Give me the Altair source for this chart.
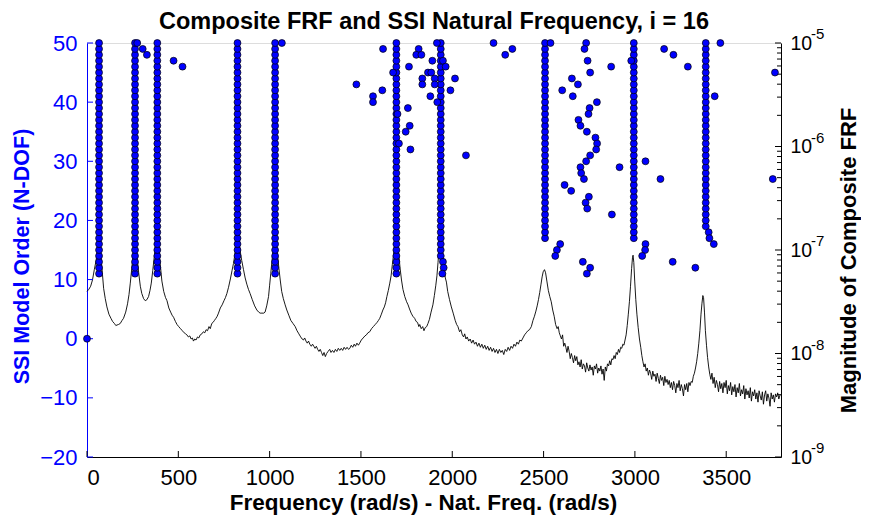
import altair as alt
import pandas as pd

W, H = 694, 414
BLUE = "#0000ff"
FONT = "Liberation Sans"
TITLE = "Composite FRF and SSI Natural Frequency, i = 16"

# ---------------- FRF curve (frequency, log10 magnitude) ----------------
frf_freq = [
    0, 10, 20, 30, 40, 50, 58, 63, 66, 70, 76, 84, 91, 100, 109, 120, 131, 140, 150, 158,
    164, 172, 182, 192, 200, 212, 222, 230, 237, 245, 252, 258, 263, 268, 275, 283, 292, 300, 310, 319,
    328, 337, 345, 352, 360, 368, 376, 385, 392, 400, 410, 420, 430, 438, 448, 458, 466, 474, 484, 493,
    502, 512, 522, 532, 540, 547, 555, 563, 570, 577, 583, 590, 597, 605, 612, 620, 629, 637, 645, 652,
    660, 668, 675, 683, 690, 698, 706, 713, 720, 730, 740, 750, 758, 766, 775, 785, 794, 802, 810, 817,
    824, 830, 838, 847, 857, 866, 875, 884, 893, 905, 918, 930, 940, 948, 958, 968, 975, 984, 994, 1000,
    1006, 1013, 1020, 1026, 1031, 1036, 1044, 1051, 1058, 1066, 1075, 1085, 1094, 1105, 1116, 1128, 1140, 1150, 1160, 1170,
    1178, 1185, 1192, 1199, 1206, 1213, 1220, 1228, 1235, 1242, 1249, 1256, 1263, 1270, 1277, 1284, 1291, 1298, 1305, 1312,
    1320, 1329, 1336, 1344, 1352, 1360, 1368, 1376, 1384, 1392, 1400, 1408, 1416, 1424, 1432, 1439, 1447, 1455, 1463, 1470,
    1478, 1486, 1493, 1502, 1512, 1522, 1530, 1538, 1548, 1558, 1568, 1578, 1588, 1596, 1603, 1612, 1620, 1628, 1635, 1642,
    1650, 1658, 1665, 1672, 1680, 1687, 1693, 1699, 1706, 1714, 1722, 1730, 1740, 1750, 1758, 1766, 1775, 1784, 1794, 1802,
    1810, 1817, 1822, 1830, 1838, 1845, 1852, 1860, 1867, 1875, 1884, 1894, 1902, 1910, 1916, 1922, 1928, 1934, 1940, 1947,
    1955, 1962, 1968, 1975, 1985, 1995, 2005, 2016, 2024, 2031, 2040, 2047, 2055, 2062, 2068, 2075, 2082, 2090, 2098, 2106,
    2114, 2122, 2130, 2138, 2146, 2154, 2162, 2170, 2178, 2186, 2194, 2202, 2210, 2218, 2226, 2234, 2242, 2250, 2258, 2266,
    2274, 2282, 2290, 2298, 2306, 2314, 2322, 2330, 2338, 2346, 2354, 2362, 2370, 2378, 2387, 2396, 2405, 2414, 2423, 2433,
    2442, 2450, 2458, 2465, 2472, 2479, 2486, 2492, 2498, 2505, 2511, 2518, 2526, 2534, 2542, 2550, 2558, 2566, 2574, 2580,
    2586, 2592, 2598, 2604, 2610, 2616, 2622, 2628, 2634, 2640, 2646, 2652, 2658, 2664, 2670, 2676, 2682, 2688, 2694, 2700,
    2706, 2712, 2718, 2724, 2730, 2736, 2742, 2748, 2754, 2760, 2766, 2772, 2778, 2784, 2790, 2796, 2802, 2808, 2814, 2820,
    2826, 2832, 2838, 2844, 2850, 2856, 2862, 2868, 2874, 2880, 2886, 2892, 2898, 2904, 2910, 2916, 2922, 2928, 2934, 2940,
    2946, 2952, 2958, 2964, 2970, 2976, 2982, 2987, 2990, 2994, 2999, 3005, 3011, 3018, 3025, 3032, 3038, 3044, 3050, 3056,
    3062, 3068, 3074, 3080, 3086, 3092, 3098, 3104, 3110, 3116, 3122, 3128, 3134, 3140, 3146, 3152, 3158, 3164, 3170, 3176,
    3182, 3188, 3194, 3200, 3206, 3212, 3218, 3224, 3230, 3236, 3242, 3248, 3254, 3260, 3266, 3272, 3278, 3284, 3290, 3296,
    3302, 3308, 3314, 3320, 3326, 3332, 3338, 3344, 3350, 3356, 3362, 3367, 3372, 3376, 3381, 3386, 3392, 3398, 3404, 3410,
    3416, 3422, 3428, 3434, 3440, 3446, 3452, 3458, 3464, 3470, 3476, 3482, 3488, 3494, 3500, 3506, 3512, 3518, 3524, 3530,
    3536, 3542, 3548, 3554, 3560, 3566, 3572, 3578, 3584, 3590, 3596, 3602, 3608, 3614, 3620, 3626, 3632, 3638, 3644, 3650,
    3656, 3662, 3668, 3674, 3680, 3686, 3692, 3698, 3704, 3710, 3716, 3722, 3728, 3734, 3740, 3746, 3752, 3758, 3764, 3770,
    3776, 3782, 3788, 3795,
]
frf_log = [
    -7.40, -7.38, -7.35, -7.29, -7.19, -7.10, -6.98, -6.90, -6.86, -6.92, -7.05, -7.22, -7.37, -7.47, -7.55, -7.62, -7.66, -7.69, -7.71, -7.73,
    -7.725, -7.72, -7.71, -7.68, -7.66, -7.60, -7.52, -7.43, -7.32, -7.18, -7.05, -6.93, -6.86, -6.92, -7.08, -7.22, -7.35, -7.42, -7.47, -7.49,
    -7.48, -7.45, -7.39, -7.32, -7.20, -7.07, -6.95, -6.86, -6.95, -7.12, -7.30, -7.40, -7.46, -7.49, -7.56, -7.60, -7.63, -7.65, -7.69, -7.72,
    -7.74, -7.76, -7.78, -7.80, -7.81, -7.82, -7.84, -7.83, -7.86, -7.85, -7.88, -7.86, -7.87, -7.84, -7.85, -7.82, -7.81, -7.79, -7.80, -7.77,
    -7.78, -7.74, -7.76, -7.71, -7.70, -7.68, -7.66, -7.64, -7.61, -7.56, -7.53, -7.49, -7.46, -7.42, -7.36, -7.28, -7.20, -7.13, -7.04, -6.95,
    -6.86, -6.90, -7.00, -7.10, -7.19, -7.27, -7.33, -7.38, -7.42, -7.48, -7.54, -7.58, -7.60, -7.61, -7.61, -7.61, -7.60, -7.54, -7.45, -7.34,
    -7.23, -7.10, -6.98, -6.89, -6.86, -6.92, -7.06, -7.18, -7.29, -7.40, -7.47, -7.53, -7.58, -7.63, -7.68, -7.71, -7.74, -7.78, -7.81, -7.84,
    -7.86, -7.87, -7.85, -7.88, -7.90, -7.88, -7.91, -7.93, -7.91, -7.93, -7.95, -7.93, -7.96, -7.98, -7.96, -7.99, -8.02, -7.99, -8.03, -8.00,
    -7.98, -7.96, -7.99, -7.97, -7.99, -7.96, -7.98, -7.95, -7.97, -7.95, -7.97, -7.94, -7.96, -7.94, -7.96, -7.95, -7.92, -7.94, -7.91, -7.93,
    -7.90, -7.92, -7.90, -7.87, -7.85, -7.83, -7.82, -7.80, -7.79, -7.76, -7.74, -7.72, -7.70, -7.68, -7.66, -7.62, -7.58, -7.55, -7.51, -7.45,
    -7.39, -7.32, -7.25, -7.14, -7.02, -6.92, -6.86, -6.90, -7.02, -7.17, -7.29, -7.38, -7.45, -7.50, -7.53, -7.57, -7.61, -7.64, -7.66, -7.69,
    -7.70, -7.74, -7.72, -7.76, -7.74, -7.78, -7.75, -7.74, -7.71, -7.67, -7.60, -7.53, -7.44, -7.34, -7.25, -7.12, -6.98, -6.88, -6.92, -7.03,
    -7.17, -7.27, -7.31, -7.40, -7.48, -7.55, -7.61, -7.68, -7.72, -7.74, -7.79, -7.77, -7.82, -7.84, -7.81, -7.86, -7.84, -7.88, -7.86, -7.90,
    -7.87, -7.91, -7.89, -7.93, -7.90, -7.94, -7.91, -7.95, -7.92, -7.96, -7.93, -7.97, -7.94, -7.98, -7.95, -7.99, -7.96, -8.00, -7.96, -7.99,
    -7.97, -8.01, -7.96, -7.98, -7.94, -7.97, -7.93, -7.95, -7.91, -7.93, -7.89, -7.91, -7.87, -7.88, -7.85, -7.82, -7.80, -7.78, -7.77, -7.74,
    -7.68, -7.64, -7.59, -7.54, -7.48, -7.41, -7.33, -7.26, -7.21, -7.19, -7.22, -7.30, -7.39, -7.45, -7.50, -7.58, -7.64, -7.72, -7.76, -7.74,
    -7.80, -7.83, -7.86, -7.82, -7.93, -7.90, -7.94, -7.99, -7.93, -7.98, -8.05, -8.00, -8.04, -8.09, -8.02, -8.07, -8.03, -8.11, -8.08, -8.13,
    -8.06, -8.15, -8.10, -8.12, -8.18, -8.09, -8.14, -8.17, -8.11, -8.16, -8.13, -8.21, -8.12, -8.15, -8.10, -8.19, -8.14, -8.17, -8.12, -8.20,
    -8.15, -8.26, -8.13, -8.17, -8.10, -8.12, -8.07, -8.11, -8.05, -8.06, -8.02, -8.05, -7.99, -8.01, -7.96, -7.99, -7.94, -7.95, -7.91, -7.92,
    -7.87, -7.82, -7.73, -7.62, -7.50, -7.35, -7.18, -7.07, -7.05, -7.12, -7.30, -7.48, -7.62, -7.75, -7.86, -7.94, -8.02, -8.08, -8.13, -8.10,
    -8.17, -8.14, -8.21, -8.16, -8.19, -8.25, -8.17, -8.22, -8.20, -8.27, -8.19, -8.24, -8.29, -8.21, -8.26, -8.23, -8.31, -8.22, -8.28, -8.25,
    -8.30, -8.26, -8.33, -8.28, -8.35, -8.27, -8.31, -8.38, -8.29, -8.33, -8.26, -8.36, -8.30, -8.34, -8.41, -8.30, -8.35, -8.29, -8.37, -8.28,
    -8.31, -8.27, -8.28, -8.22, -8.19, -8.14, -8.08, -8.00, -7.90, -7.78, -7.62, -7.52, -7.44, -7.46, -7.60, -7.78, -7.92, -8.04, -8.13, -8.20,
    -8.25, -8.19, -8.29, -8.23, -8.33, -8.26, -8.30, -8.37, -8.27, -8.34, -8.29, -8.38, -8.28, -8.33, -8.26, -8.39, -8.31, -8.36, -8.28, -8.40,
    -8.32, -8.37, -8.30, -8.42, -8.33, -8.38, -8.29, -8.41, -8.35, -8.39, -8.31, -8.44, -8.34, -8.40, -8.36, -8.43, -8.33, -8.46, -8.37, -8.41,
    -8.35, -8.44, -8.38, -8.47, -8.36, -8.41, -8.45, -8.37, -8.49, -8.40, -8.36, -8.46, -8.39, -8.43, -8.51, -8.38, -8.44, -8.40, -8.47, -8.39,
    -8.42, -8.38, -8.44, -8.40,
]

# ---------------- SSI stable columns (frequency, lowest order; each runs up to order 50) ----------------
stable_freq = [66, 263, 385, 824, 1030, 1694, 1937, 2508, 2994, 3388]
stable_min_order = [11, 11, 11, 11, 11, 11, 14, 17, 17, 19]
max_order = 50

# ---------------- scattered SSI poles ----------------
extra_freq = [
    0, 275, 305, 328, 474, 523, 1067,
    1621, 1816, 1803, 1831, 2226, 2329, 2290, 1916, 1891, 1949, 1763, 1964, 1676, 1867, 1885,
    1836, 1904, 2015, 1475, 1836, 1904, 1617, 1990, 1566, 1880, 1566, 1918, 1757, 1700, 1767,
    1745, 1708, 1771, 2075, 1949, 1953, 1946,
    2538, 2733, 2724, 2741, 2870, 2755, 2655, 2688, 2602, 2660, 2792, 2752, 2746, 2691, 2702,
    2737, 2784, 2793, 2788, 2755, 2733, 2702, 2916, 2706, 2721, 2615, 2651, 2748, 2730, 2739,
    2874, 2591, 2573, 2564, 2715, 2755, 2737,
    2980, 3058, 3140, 3160, 3211, 3290, 3468, 3437, 3767, 3755, 3058, 3056, 3040, 3207, 3331,
    3404, 3408, 3432,
]
extra_order = [
    0, 50, 49, 48, 47, 46, 50,
    49, 49, 48, 48, 50, 49, 48, 50, 47, 47, 46, 46, 45, 45, 45,
    44, 44, 44, 43, 43, 43, 42, 42, 41, 41, 40, 40, 39, 38, 36,
    35, 33, 32, 31, 13, 12, 11,
    50, 50, 49, 47, 46, 45, 44, 43, 42, 41, 40, 39, 38, 37, 36,
    35, 34, 33, 32, 31, 30, 29, 29, 28, 27, 26, 25, 24, 23, 22,
    21, 16, 15, 14, 13, 12, 11,
    47, 30, 27, 49, 48, 46, 50, 41, 45, 27, 16, 15, 14, 13, 12,
    18, 17, 16,
]

# ---------------- axes ----------------
freq_ticks = [0, 500, 1000, 1500, 2000, 2500, 3000, 3500]
order_ticks = [-20, -10, 0, 10, 20, 30, 40, 50]
mag_major = [1e-9, 1e-8, 1e-7, 1e-6, 1e-5]
mag_exponents = ["-9", "-8", "-7", "-6", "-5"]
minor_mult = [2, 3, 4, 5, 6, 7, 8, 9]

# ---------------- tables ----------------
frf_df = pd.DataFrame({"freq": frf_freq, "mag": [10 ** v for v in frf_log]})
pf, po = [], []
for f, m in zip(stable_freq, stable_min_order):
    for o in range(m, max_order + 1):
        pf.append(f)
        po.append(o)
pf += extra_freq
po += extra_order
pts_df = pd.DataFrame({"freq": pf, "order": po})
major_df = pd.DataFrame({"mag": mag_major, "exp": mag_exponents})
minor_df = pd.DataFrame({"mag": [k * d for d in mag_major[:-1] for k in minor_mult]})
xt_df = pd.DataFrame({"freq": freq_ticks})
yt_df = pd.DataFrame({"order": order_ticks})
title_df = pd.DataFrame({"t": [TITLE]})

x_scale = alt.Scale(domain=[0, 3800], nice=False, zero=False)
left_scale = alt.Scale(domain=[-20, 50], nice=False, zero=False)
right_scale = alt.Scale(type="log", domain=[1e-9, 1e-5], nice=False)

x_enc = alt.X(
    "freq:Q", scale=x_scale,
    axis=alt.Axis(values=freq_ticks, format="d", title="Frequency (rad/s) - Nat. Freq. (rad/s)",
                  grid=False, ticks=False, tickSize=0, domainColor="black", domainWidth=1,
                  labelFont=FONT, labelFontSize=22, labelColor="black", labelPadding=10,
                  titleFont=FONT, titleFontSize=22.5, titleFontWeight="bold", titleColor="black",
                  titlePadding=3, titleX=W / 2 - 11),
)

line = alt.Chart(frf_df).mark_line(color="black", strokeWidth=0.9).encode(
    x=x_enc,
    y=alt.Y("mag:Q", scale=right_scale,
            axis=alt.Axis(orient="right", values=mag_major, labelExpr="'10'", grid=False,
                          ticks=False, tickSize=0, domainColor="black", domainWidth=1,
                          labelFont=FONT, labelFontSize=19.5, labelColor="black", labelPadding=9,
                          labelAlign="left", labelBaseline="middle",
                          title="Magnitude of Composite FRF", titleAngle=270, titleY=H / 2 + 10,
                          titleFont=FONT, titleFontSize=22, titleFontWeight="bold",
                          titleColor="black", titlePadding=49)),
)

exps = alt.Chart(major_df).mark_text(font=FONT, fontSize=15, align="left", baseline="middle",
                                     dy=-9, color="black").encode(
    x=alt.value(W + 30),
    y=alt.Y("mag:Q", scale=right_scale, axis=None),
    text="exp:N",
)

rmaj = alt.Chart(major_df).mark_rule(color="black", strokeWidth=1).encode(
    x=alt.value(W - 6), x2=alt.value(W),
    y=alt.Y("mag:Q", scale=right_scale, axis=None),
)
rmin = alt.Chart(minor_df).mark_rule(color="black", strokeWidth=1).encode(
    x=alt.value(W - 4), x2=alt.value(W),
    y=alt.Y("mag:Q", scale=right_scale, axis=None),
)
xt = alt.Chart(xt_df).mark_rule(color="black", strokeWidth=1).encode(
    x=alt.X("freq:Q", scale=x_scale), y=alt.value(H - 6), y2=alt.value(H),
)
yt = alt.Chart(yt_df).mark_rule(color=BLUE, strokeWidth=1).encode(
    x=alt.value(0), x2=alt.value(6),
    y=alt.Y("order:Q", scale=left_scale, axis=None),
)

points = alt.Chart(pts_df).mark_circle(color=BLUE, stroke="black", strokeWidth=0.7,
                                       size=48, opacity=1).encode(
    x=alt.X("freq:Q", scale=x_scale),
    y=alt.Y("order:Q", scale=left_scale,
            axis=alt.Axis(orient="left", values=order_ticks, grid=False, ticks=False, tickSize=0,
                          domainColor=BLUE, domainWidth=1,
                          labelFont=FONT, labelFontSize=22, labelColor=BLUE, labelPadding=10,
                          title="SSI Model Order (N-DOF)", titleFont=FONT, titleFontSize=21.5,
                          titleFontWeight="bold", titleColor=BLUE, titlePadding=6,
                          titleY=H / 2 + 6)),
)

title = alt.Chart(title_df).mark_text(font=FONT, fontSize=23.5, fontWeight="bold", color="black",
                                      align="center", baseline="alphabetic").encode(
    x=alt.value(W / 2), y=alt.value(-14.5), text="t:N",
)

chart = alt.layer(line, exps, rmaj, rmin, xt, yt, points, title).resolve_scale(y="independent").properties(
    width=W, height=H,
    autosize=alt.AutoSizeParams(type="none"),
    padding={"left": 79, "top": 35, "right": 80, "bottom": 58},
).configure_view(stroke="transparent", strokeWidth=0).configure(background="white")

chart.save("out.html", embed_options={"renderer": "svg", "actions": False})
